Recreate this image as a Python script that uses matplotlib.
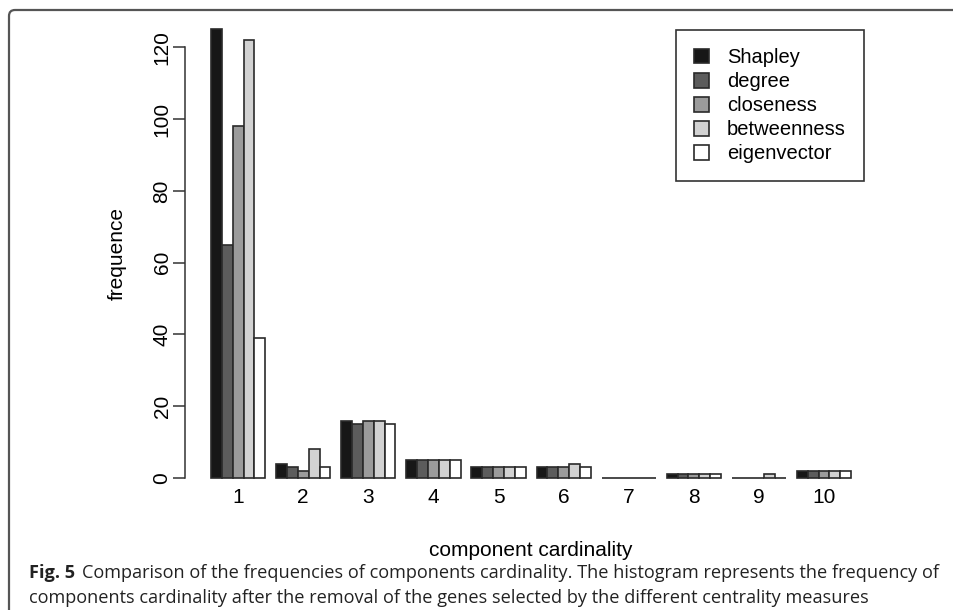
import matplotlib
matplotlib.use("Agg")
import matplotlib.pyplot as plt
import numpy as np
from matplotlib.patches import Patch, PathPatch
from matplotlib.path import Path
from matplotlib.transforms import IdentityTransform

# dados
cardinality = ["1", "2", "3", "4", "5", "6", "7", "8", "9", "10"]
measures = ["Shapley", "degree", "closeness", "betweenness", "eigenvector"]
shapley = [125, 4, 16, 5, 3, 3, 0, 1, 0, 2]
degree = [65, 3, 15, 5, 3, 3, 0, 1, 0, 2]
closeness = [98, 2, 16, 5, 3, 3, 0, 1, 0, 2]
betweenness = [122, 8, 16, 5, 3, 4, 0, 1, 1, 2]
eigenvector = [39, 3, 15, 5, 3, 3, 0, 1, 0, 2]
cores = ["#171717", "#5c5c5c", "#9b9b9b", "#d2d2d2", "#ffffff"]

series = [shapley, degree, closeness, betweenness, eigenvector]

plt.rcParams['font.family'] = ['Liberation Sans', 'DejaVu Sans']

W, H = 954, 610
fig = plt.figure(figsize=(W / 100, H / 100), dpi=100)

# posição dos eixos em pixels (como no barplot do R)
x0, x1 = 185.4, 876.8
ytop, ybot = 11.3, 496.0
ax = fig.add_axes([x0 / W, 1 - ybot / H, (x1 - x0) / W, (ybot - ytop) / H])
ax.patch.set_alpha(0)

n = len(cardinality)
nm = len(measures)
for j, vals in enumerate(series):
    left = np.arange(n) * (nm + 1) + 1 + j
    ax.bar(left, vals, width=1, align='edge', color=cores[j],
           edgecolor='#2a2a2a', linewidth=1.2, label=measures[j])

ax.set_xlim(-1.36, 62.36)
ax.set_ylim(-5, 130)

fsz = 15

centros = np.arange(n) * (nm + 1) + 1 + nm / 2
ax.set_xticks(centros)
ax.set_xticklabels(cardinality, fontsize=fsz)
ax.tick_params(axis='x', length=0, pad=-6)

ax.set_yticks([0, 20, 40, 60, 80, 100, 120])
ax.set_yticklabels(['0', '20', '40', '60', '80', '100', '120'], rotation=90,
                   va='center', fontsize=fsz)
ax.tick_params(axis='y', length=9, width=1.1, color='#333333', pad=1)

for s in ['top', 'right', 'bottom']:
    ax.spines[s].set_visible(False)
ax.spines['left'].set_bounds(0, 120)
ax.spines['left'].set_linewidth(1.1)
ax.spines['left'].set_color('#333333')

ax.set_ylabel('frequence', fontsize=fsz, va='center')
ax.yaxis.set_label_coords((117 - x0) / (x1 - x0), 0.5)
ax.set_xlabel('component cardinality', fontsize=fsz, va='center')
ax.xaxis.set_label_coords(0.5, -(551 - ybot) / (ybot - ytop))

handles = [Patch(facecolor=cores[j], edgecolor='#2a2a2a', linewidth=1.2) for j in range(nm)]
leg = fig.legend(handles, measures, loc='upper right',
                 bbox_to_anchor=(864 / W, 1 - 30 / H), bbox_transform=fig.transFigure,
                 borderaxespad=0, fontsize=14.5, fancybox=False, framealpha=1,
                 edgecolor='#333333', handlelength=0.75, handleheight=0.75,
                 handletextpad=0.9, labelspacing=0.25, borderpad=0.9)
leg.get_frame().set_linewidth(1.2)

# moldura da figura: só topo e lado esquerdo, canto arredondado
yt = H - 10
verts = [(9, -5), (9, yt - 6), (9, yt), (15, yt), (W + 5, yt)]
codes = [Path.MOVETO, Path.LINETO, Path.CURVE3, Path.CURVE3, Path.LINETO]
moldura = PathPatch(Path(verts, codes), transform=IdentityTransform(),
                    facecolor='none', edgecolor='#555555', linewidth=1.6)
fig.patches.append(moldura)

# legenda da figura (caption)
cap1 = "Comparison of the frequencies of components cardinality. The histogram represents the frequency of"
cap2 = "components cardinality after the removal of the genes selected by the different centrality measures"
fs = 13.5
fig.canvas.draw()
r = fig.canvas.get_renderer()
t2 = fig.text(29 / W, 1 - 598 / H, cap2, family='Open Sans', fontsize=fs, va='center', color='#222222')
larg = t2.get_window_extent(r).width
fs = fs * (868 - 29) / larg
t2.set_fontsize(fs)
tb = fig.text(29 / W, 1 - 573 / H, "Fig. 5", family='Open Sans', weight='bold', fontsize=fs,
              va='center', color='#222222')
fim = tb.get_window_extent(r).x1
fig.text(fim / W + 7 / W, 1 - 573 / H, cap1, family='Open Sans', fontsize=fs, va='center', color='#222222')

fig.savefig('out.png', dpi=100)
